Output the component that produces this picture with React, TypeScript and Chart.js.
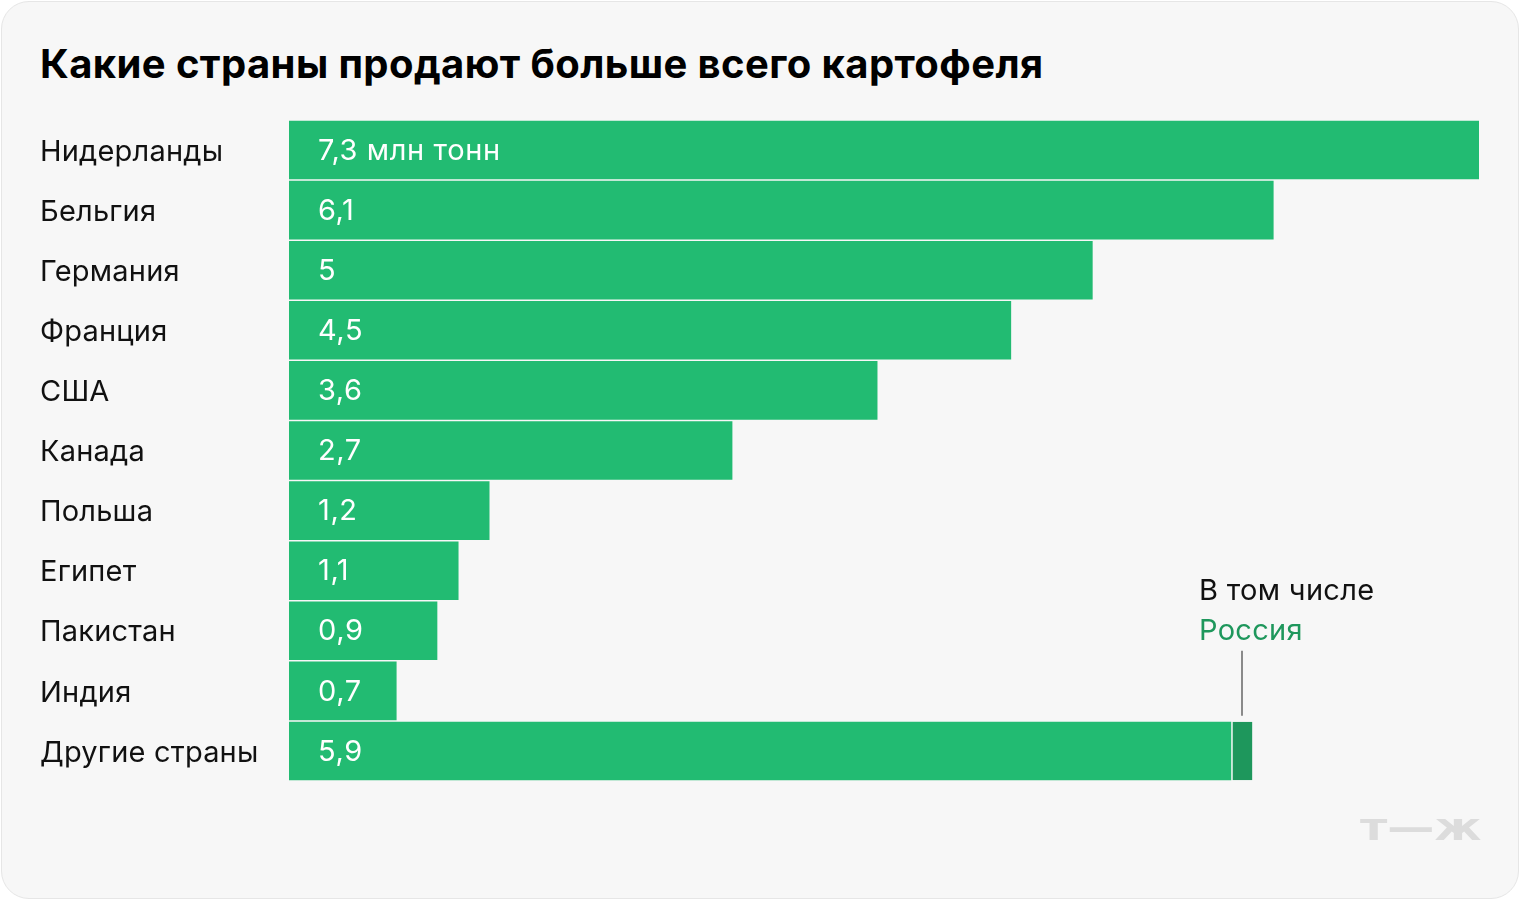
import React, { useEffect, useRef } from "react";
import { Chart, registerables } from "chart.js";

Chart.register(...registerables);

const countries = [
  "Нидерланды",
  "Бельгия",
  "Германия",
  "Франция",
  "США",
  "Канада",
  "Польша",
  "Египет",
  "Пакистан",
  "Индия",
  "Другие страны",
];
const exportValues = [7.3, 6.04, 4.93, 4.43, 3.61, 2.72, 1.23, 1.04, 0.91, 0.66, 5.78];
const russiaValues = [null, null, null, null, null, null, null, null, null, null, 0.13];
const valueLabels = ["7,3 млн тонн", "6,1", "5", "4,5", "3,6", "2,7", "1,2", "1,1", "0,9", "0,7", "5,9"];

const TITLE = "Какие страны продают больше всего картофеля";
const NOTE_1 = "В том числе";
const NOTE_2 = "Россия";

const FONT = "Inter, 'Noto Sans', sans-serif";
const GREEN = "#22bb72";
const DARK_GREEN = "#1e975c";
const BG = "#f7f7f7";

export default function App() {
  const ref = useRef<HTMLCanvasElement | null>(null);

  useEffect(() => {
    document.body.style.margin = "0";
    const canvas = ref.current;
    if (!canvas) return;

    const spacing = {
      id: "spacing",
      beforeDraw(chart: any) {
        (chart.ctx as any).letterSpacing = "0.2px";
      },
    };

    const overlay = {
      id: "overlay",
      afterDatasetsDraw(chart: any) {
        const ctx = chart.ctx;
        const x = chart.scales.x;
        const y = chart.scales.y;
        ctx.save();
        (ctx as any).letterSpacing = "0.6px";
        ctx.font = `29px ${FONT}`;
        ctx.fillStyle = "#ffffff";
        ctx.textBaseline = "middle";
        ctx.textAlign = "left";
        valueLabels.forEach((t, i) => {
          ctx.fillText(t, x.getPixelForValue(0) + 29, y.getPixelForValue(i) + 1);
        });
        const last = countries.length - 1;
        const rv = russiaValues[last] as number;
        const lx = Math.round(x.getPixelForValue(exportValues[last] + rv / 2));
        const barMeta = chart.getDatasetMeta(1).data[last];
        const barTop = barMeta.y - barMeta.height / 2;
        ctx.strokeStyle = "#8a8a8a";
        ctx.lineWidth = 2;
        ctx.beginPath();
        ctx.moveTo(lx, barTop - 71);
        ctx.lineTo(lx, barTop - 6);
        ctx.stroke();
        (ctx as any).letterSpacing = "0.3px";
        ctx.textBaseline = "alphabetic";
        ctx.fillStyle = "#111111";
        ctx.fillText(NOTE_1, lx - 43, barTop - 122);
        ctx.fillStyle = DARK_GREEN;
        ctx.fillText(NOTE_2, lx - 43, barTop - 82);
        ctx.restore();
      },
      afterDraw(chart: any) {
        (chart.ctx as any).letterSpacing = "0px";
      },
    };

    const chart = new Chart(canvas, {
      type: "bar",
      data: {
        labels: countries,
        datasets: [
          {
            data: exportValues,
            backgroundColor: GREEN,
            borderWidth: 0,
            barPercentage: 0.975,
            categoryPercentage: 1,
          },
          {
            data: russiaValues as any,
            backgroundColor: DARK_GREEN,
            borderColor: BG,
            borderWidth: { left: 1.5, top: 0, right: 0, bottom: 0 } as any,
            borderSkipped: false,
            barPercentage: 0.975,
            categoryPercentage: 1,
          },
        ],
      },
      options: {
        indexAxis: "y",
        animation: false,
        responsive: false,
        maintainAspectRatio: false,
        layout: { padding: { top: 120, bottom: 119, left: 40, right: 41 } },
        plugins: {
          legend: { display: false },
          tooltip: { enabled: false },
          title: { display: false },
        },
        scales: {
          x: {
            stacked: true,
            display: false,
            min: 0,
            max: 7.3,
          },
          y: {
            stacked: true,
            grid: { display: false },
            border: { display: false },
            afterFit: (s: any) => {
              s.width = 249;
            },
            ticks: {
              crossAlign: "far",
              padding: 0,
              labelOffset: 2,
              color: "#111111",
              font: { family: FONT, size: 29 },
            },
          },
        },
      },
      plugins: [spacing, overlay],
    });
    return () => chart.destroy();
  }, []);

  return (
    <div
      style={{
        position: "relative",
        width: 1520,
        height: 900,
        background: "#ffffff",
        overflow: "hidden",
      }}
    >
      <div
        style={{
          position: "absolute",
          left: 1,
          top: 1,
          width: 1516,
          height: 896,
          background: BG,
          border: "1px solid #e6e6e6",
          borderRadius: 28,
        }}
      />
      <div
        style={{
          position: "absolute",
          left: 40,
          top: 38,
          fontFamily: FONT,
          fontWeight: 700,
          fontSize: 40,
          lineHeight: "52px",
          color: "#000",
          whiteSpace: "nowrap",
          letterSpacing: "0.4px",
        }}
      >
        {TITLE}
      </div>
      <canvas
        ref={ref}
        width={1520}
        height={900}
        style={{ position: "absolute", left: 0, top: 0, width: 1520, height: 900 }}
      />
      <div
        style={{
          position: "absolute",
          left: 1360,
          top: 807,
          fontFamily: "'DejaVu Sans', sans-serif",
          fontWeight: 700,
          fontSize: 38,
          lineHeight: "40px",
          color: "#dcdcdc",
          whiteSpace: "nowrap",
          transform: "scaleX(1.24)",
          transformOrigin: "left center",
        }}
      >
        т—ж
      </div>
    </div>
  );
}
